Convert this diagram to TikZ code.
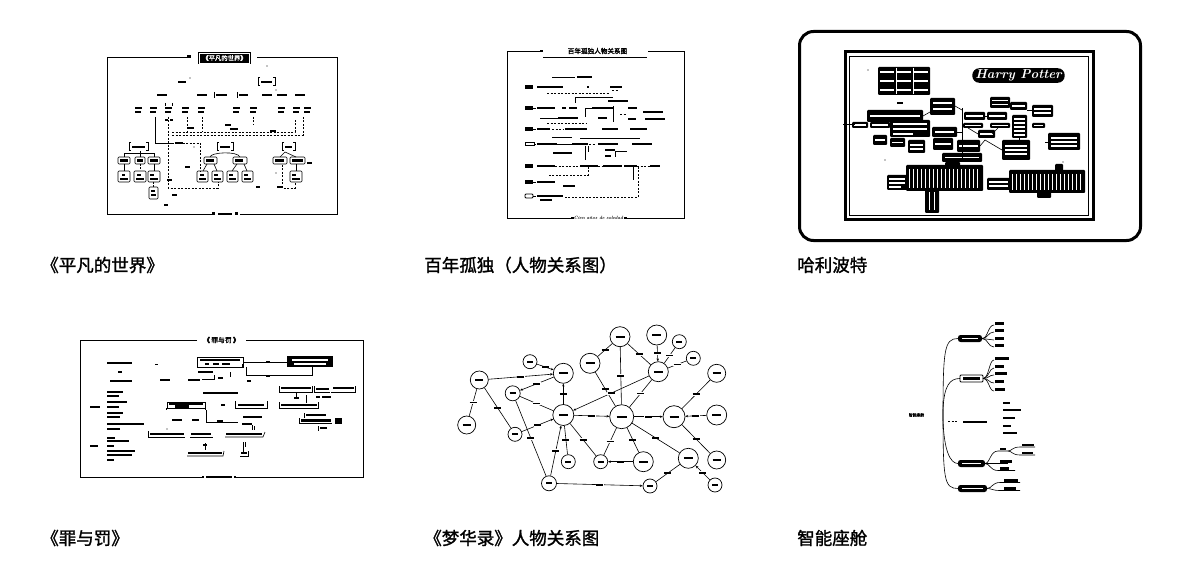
\documentclass[tikz,border=0pt]{standalone}
\usepackage{fontspec}
\newfontfamily\cjk{Noto Sans CJK SC}
\newfontfamily\cjkb{Noto Sans CJK SC}[FakeBold=1.5]
\usetikzlibrary{arrows.meta}
\newcommand\Tb[3]{\fill (#1,#2-1.1) rectangle (#1+#3,#2+1.1);}
\newcommand\Wb[3]{\fill[white] (#1,#2-0.8) rectangle (#1+#3,#2+0.8);}
\newcommand\Bx[4]{\draw[rounded corners=1pt,line width=0.6pt] (#1,#2) rectangle (#3,#4);}
\newcommand\Bk[4]{\fill[rounded corners=1pt] (#1,#2) rectangle (#3,#4);}
\newcommand\rb{\rule{7pt}{1.8pt}}
\tikzset{
  frm/.style={line width=0.8pt},
  dsh/.style={line width=0.6pt,dash pattern=on 2pt off 1.5pt},
  thn/.style={line width=0.6pt},
  captxt/.style={font=\cjkb\fontsize{17.5}{20}\selectfont,inner sep=0,anchor=west},
  pcirc/.style={circle,draw,line width=0.7pt,inner sep=0,fill=white},
  elab/.style={fill=white,inner sep=0.4pt,font=\tiny},
  arrw/.style={line width=0.6pt,-{Stealth[length=2.8pt,width=2.4pt]}},
  lnk/.style={line width=0.6pt}
}
\begin{document}
\begin{tikzpicture}[x=1pt,y=-1pt,line width=0.6pt]
\useasboundingbox (0,0) rectangle (1179,567);
% ---------------- captions
\node[captxt] (c1) at (41,265) {《平凡的世界》};
\node[captxt] (c2) at (424,265) {百年孤独（人物关系图）};
\node[captxt] (c3) at (797,265) {哈利波特};
\node[captxt] (c4) at (41,538) {《罪与罚》};
\node[captxt] (c5) at (424,538) {《梦华录》人物关系图};
\node[captxt] (c6) at (797,538) {智能座舱};

% ================= thumbnail 1
\draw[frm] (190,57) -- (107,57) -- (107,214) -- (213,214);
\draw[frm] (240,214) -- (337,214) -- (337,57) -- (257,57);
\fill (187,55.5) rectangle (191,58.5);
\node[fill=black,text=white,font=\cjkb\fontsize{6.3}{7}\selectfont,inner xsep=4pt,minimum height=12pt] (t1) at (224.5,58) {《平凡的世界》};
\draw[white,line width=0.5pt] ([shift={(1.5,-1.5)}]t1.south west) rectangle ([shift={(-1.5,1.5)}]t1.north east);
\fill (212,212.5) rectangle (215,215.5); \Tb{218}{214}{14} \fill (235,212.5) rectangle (238,215.5);
% row 1
\Tb{178}{82}{8}
\draw[line width=1pt] (260,78)--(258,78)--(258,86)--(260,86);
\draw[line width=1pt] (273,78)--(275,78)--(275,86)--(273,86);
\Tb{261}{82}{11}
\fill (267,66) circle (0.6); \fill (190,78) circle (0.6); \fill (276,90) circle (0.6);
% row 2
\Tb{157}{95}{10} \Tb{197}{95}{10}
\draw (214,92)--(214,98); \Tb{216}{95}{11}
\draw (237,92)--(237,98); \Tb{239}{95}{9}
\Tb{262}{95}{10} \Tb{277}{95}{10} \Tb{295}{95}{10}
% row 3
\foreach \x in {135,150,165,182,198,233,250,278,293,304} {\Tb{\x}{108}{7} \Tb{\x}{112}{6}}
\draw[thn] (165,103)--(165,106); \draw[thn] (172,103)--(172,106);
\Tb{165}{120}{3} \Tb{170}{120}{3}
% dashed connectors
\draw[thn] (155,117)--(155,143)--(172,143);
\draw[dsh] (172,143)--(200,143)--(200,172);
\draw[dsh] (168,117)--(168,188)--(218,188)--(218,182);
\draw[dsh] (172,132)--(295,132)--(295,120);
\draw[dsh] (172,135)--(303,135)--(303,117);
\draw[dsh] (187,117)--(187,132); \draw[dsh] (202,117)--(202,132); \draw[dsh] (253,117)--(253,125);
\Tb{225}{125}{6} \Tb{188}{128}{6} \Tb{230}{129}{8} \Tb{270}{131}{6}
\Tb{175}{143}{8}
% lower left group
\draw[line width=1pt] (131,143)--(129,143)--(129,151)--(131,151);
\draw[line width=1pt] (146,143)--(148,143)--(148,151)--(146,151);
\Tb{132}{147}{13}
\draw[thn] (124,157)--(124,153)--(154,153)--(154,157); \draw[thn] (140,151)--(140,157);
\Bx{118}{157}{130}{164} \Tb{120}{160.5}{8}
\Bx{135}{157}{145}{164} \Tb{137}{160.5}{6}
\Bx{148}{157}{160}{164} \Tb{150}{160.5}{8}
\draw[thn] (124,164)--(124,171); \draw[dsh] (140,164)--(140,171); \draw[thn] (154,164)--(154,171);
\Bx{118}{171}{130}{182} \Tb{122}{175}{3} \Tb{120}{179}{8}
\Bx{134}{171}{146}{182} \Tb{137}{175}{4} \Tb{136}{179}{8}
\Bx{148}{171}{160}{182} \Tb{150}{175}{4} \Tb{150}{179}{8}
\draw[dsh] (153,182)--(153,187);
\Bx{149}{187}{158}{199} \Tb{151}{191}{4} \Tb{151}{195}{5}
% middle group
\draw[line width=1pt] (219,143)--(217,143)--(217,151)--(219,151);
\draw[line width=1pt] (231,143)--(233,143)--(233,151)--(231,151);
\Tb{220}{147}{10}
\draw[thn] (210,157) .. controls (211,152) and (238,151) .. (240,157);
\Bx{204}{157}{217}{164} \Tb{206}{160.5}{8}
\Bx{233}{157}{247}{164} \Tb{235}{160.5}{8}
\draw[thn] (207,164)--(203,171); \draw[thn] (214,164)--(217,171);
\draw[thn] (237,164)--(232,171); \draw[thn] (244,164)--(247,171);
\Bx{197}{171}{208}{182} \Tb{200}{175}{4} \Tb{199}{179}{7}
\Bx{212}{171}{223}{182} \Tb{214}{175}{4} \Tb{214}{179}{7}
\Bx{227}{171}{238}{182} \Tb{229}{175}{4} \Tb{229}{179}{7}
\Bx{242}{171}{253}{182} \Tb{244}{175}{4} \Tb{244}{179}{7}
% right group
\draw[line width=1pt] (284,143)--(282,143)--(282,151)--(284,151);
\draw[line width=1pt] (293,143)--(295,143)--(295,151)--(293,151);
\Tb{285}{147}{7}
\draw[thn] (280,157)--(285,152)--(296,157);
\Bx{273}{157}{287}{164} \Tb{275}{160.5}{9}
\Bx{290}{157}{305}{164} \Tb{292}{160.5}{11}
\Tb{307}{163}{5}
\draw[thn] (296,164)--(296,171);
\Bx{290}{171}{302}{182} \Tb{292}{175}{4} \Tb{292}{179}{8}
\draw[dsh] (282,165)--(282,188)--(295,188)--(295,182);
\Tb{277}{187}{5}
% scattered labels
\Tb{185}{167}{5} \Tb{167}{180}{5} \Tb{172}{195}{5} \Tb{164}{205}{4} \Tb{256}{187}{4}
\fill (276,173) circle (0.6); \fill (194,147) circle (0.6);

% ================= thumbnail 2
\draw[frm] (541,51)--(507,51)--(507,218)--(572,218);
\draw[frm] (648,51)--(684,51)--(684,218)--(625,218);
\fill (540,49.8) rectangle (542.5,52.2); \fill (571,216.8) rectangle (573.5,219.2); \fill (624,216.8) rectangle (626.5,219.2);
\node[font=\cjkb\fontsize{6.6}{7}\selectfont,inner sep=0] (t2) at (597.5,51) {百年孤独人物关系图};
\draw (543,57)--(647,57);
\node[font=\bfseries\itshape\fontsize{4.6}{5}\selectfont,inner sep=0] (b2) at (598.5,218) {Cien años de soledad};
\draw (552,77)--(575,77); \Tb{577}{77}{15}
% tags
\fill (525,85) rectangle (533,89); \fill (525,106) rectangle (533,110); \fill (525,127) rectangle (533,131);
\draw[line width=0.8pt] (525,142.5) rectangle (534,145.5);
\fill (525,164) rectangle (533,168); \fill (525,180) rectangle (533,184);
\draw[line width=0.8pt,rounded corners=1pt] (525,194) rectangle (533,198);
\draw (533,108)--(536,108); \draw (533,129)--(536,129); \draw (534,144)--(536,144); \draw (533,182)--(536,182); \draw (533,196)--(536,196);
% row 87
\Tb{537}{87}{26} \fill (587,86) rectangle (589,88); \Tb{610}{87}{12}
\draw[dsh] (612,90)--(618,90);
\draw[dsh] (547,93)--(610,93);
\draw (575,103)--(575,97)--(613,97);
\Tb{608}{101}{20}
% row 108
\Tb{537}{108}{18} \Tb{562}{108}{4} \Tb{569}{108}{8}
\draw (585,117)--(585,108)--(592,108);
\Tb{592}{108}{21} \Tb{628}{108}{9} \Tb{643}{112}{20}
\draw (613,106)--(613,122);
\draw[dsh] (620,114)--(626,114);
% row 118
\draw (540,118)--(558,118); \Tb{558}{118}{20} \Tb{598}{118}{9}
\Tb{628}{119}{8} \Tb{645}{119}{20}
\draw[dsh] (547,123)--(587,123);
% row 129
\Tb{537}{129}{13} \Tb{565}{129}{22} \Tb{602}{129}{16} \Tb{630}{129}{17}
\draw[dsh] (552,129)--(563,129);
\draw (552,137)--(572,137); \draw (580,138)--(640,138);
% row 144
\Tb{537}{144}{20} \draw (557,144)--(572,144); \Tb{572}{144}{16} \Tb{598}{144}{20} \Tb{632}{144}{20}
\draw[dsh] (589,144)--(596,144);
\draw (585,146)--(585,160); \draw (588,146)--(588,152);
\Tb{553}{153}{19} \Tb{605}{150}{10} \draw (615,151)--(627,151); \draw (615,151)--(615,157);
\Tb{605}{156}{6}
% row 166
\Tb{537}{166}{18} \draw[dsh] (555,166)--(580,166); \Tb{580}{166}{18}
\draw[dsh] (598,166)--(603,166); \Tb{603}{166}{19} \Tb{624}{166}{13}
\draw[dsh] (637,166)--(650,166); \Tb{650}{166}{10}
\draw[dsh] (588,167)--(588,175)--(548,175);
\draw (633,167)--(633,180);
\draw[dsh] (638,167)--(638,197)--(565,197);
\Tb{537}{182}{18} \Tb{563}{186}{12}
\Tb{537}{196}{26} \Tb{540}{200}{12}

% ================= thumbnail 3
\draw[line width=3pt,rounded corners=14pt] (799.5,31.5) rectangle (1140.5,240.5);
\draw[line width=3pt] (845,52) rectangle (1093,220);
\draw[line width=1pt] (849.5,56.5) rectangle (1088.5,215.5);
% table
\Bk{878}{67}{930}{95}
\foreach \c in {880,897,914} {\foreach \r in {72,81,90} {\Wb{\c}{\r}{14}}}
\draw[white,line width=0.6pt] (896,68)--(896,94); \draw[white,line width=0.6pt] (913,68)--(913,94);
\Tb{897}{103}{6}
% title pill
\node[fill=black,rounded corners=7pt,text=white,font=\bfseries\itshape\fontsize{13}{13}\selectfont,inner xsep=3pt,inner ysep=1.5pt] (hp) at (1018.5,75.5) {Harry Potter};
% cluster
\Bk{930}{98}{955}{115} \Wb{933}{103}{19} \Wb{933}{109}{19}
\Bk{867}{110}{923}{122} \Wb{870}{116}{50}
\Bk{852}{122}{868}{128} \Wb{854}{125}{12}
\Bk{870}{122}{890}{128} \Wb{872}{125}{16}
\Bk{890}{120}{930}{137} \Wb{893}{124}{34} \Wb{893}{129}{34} \Wb{893}{134}{20}
\Bk{932}{127}{957}{137} \Wb{935}{132}{19}
\Bk{873}{135}{887}{145} \Wb{875}{140}{10}
\Bk{890}{138}{905}{147} \Wb{892}{142.5}{11}
\Bk{908}{140}{925}{153} \Wb{910}{145}{13} \Wb{910}{149}{13}
\Bk{933}{138}{953}{150} \Wb{935}{144}{16}
\Bk{957}{140}{980}{152} \Wb{959}{146}{19}
\Bk{942}{153}{982}{162} \Wb{945}{157.5}{34}
\Bk{964}{112}{985}{120} \Wb{966}{116}{17}
\Bk{963}{123}{983}{128} \Wb{965}{125.5}{16}
\Bk{978}{130}{995}{138} \Wb{980}{134}{13}
\Bk{987}{112}{1007}{120} \Wb{989}{116}{16}
\Bk{990}{123}{1010}{128} \Wb{992}{125.5}{16}
\Bk{990}{97}{1010}{108} \Wb{992}{100.5}{16} \Wb{992}{104.5}{16}
\Bk{1010}{102}{1027}{110} \Wb{1012}{106}{13}
\Bk{1012}{115}{1027}{138} \foreach \r in {119,123,127,131,135} {\Wb{1014}{\r}{11}}
\Bk{1032}{105}{1053}{117} \Wb{1034}{109}{17} \Wb{1034}{113}{17}
\Bk{1032}{123}{1045}{128} \Wb{1034}{125.5}{9}
\Bk{1002}{140}{1030}{160} \Wb{1005}{146}{22} \Wb{1005}{150}{22} \Wb{1005}{154}{22}
\Bk{1048}{133}{1080}{150} \Wb{1051}{138}{26} \Wb{1051}{142}{26} \Wb{1051}{146}{26}
\draw (855,124)--(843,124); \draw (962,108)--(962,160);
\draw (955,106)--(962,110); \draw (985,116)--(987,116);
\draw (968,128)--(978,134); \draw (998,128)--(992,134);
\draw (1027,110)--(1032,110); \draw (1019,138)--(1019,140);
\draw (1045,142)--(1048,142); \draw (923,116)--(930,112);
\draw (957,132)--(962,132); \draw (980,146)--(985,140)--(1002,150);
\fill (885,160) circle (0.7); \fill (1063,162) circle (0.7); \fill (868,70) circle (0.6);
% bottom bar blocks
\Bk{887}{175}{907}{190} \Wb{889}{179}{16} \Wb{889}{183}{16} \Wb{889}{187}{12}
\Bk{906}{165}{983}{191}
\foreach \x in {909,913,...,980} {\draw[white,line width=0.8pt] (\x,169)--(\x,188);}
\Bk{925}{188}{939}{213}
\draw[white,line width=0.8pt] (929,192)--(929,210); \draw[white,line width=0.8pt] (934,192)--(934,210);
\Bk{945}{162}{960}{168}
\Bk{987}{178}{1010}{190} \Wb{989}{182}{19} \Wb{989}{186}{19}
\Bk{1009}{170}{1085}{193}
\Bk{1055}{164}{1063}{171}
\foreach \x in {1012,1016,...,1083} {\draw[white,line width=0.8pt] (\x,174)--(\x,190);}
\Bk{1037}{192}{1051}{198}

% ================= thumbnail 4
\draw[frm] (197,340)--(80,340)--(80,477)--(203,477);
\draw[frm] (246,340)--(363,340)--(363,477)--(235,477);
\node[font=\cjkb\fontsize{6.8}{7}\selectfont,inner sep=0] (t4) at (221.5,340) {《\,罪与罚\,》};
\fill (202,476) rectangle (204,478); \Tb{206}{477}{26} \fill (234,476) rectangle (236,478);
% left column
\Tb{107}{363}{25} \Tb{118}{372}{4} \Tb{110}{381}{22}
\Tb{107}{392}{16} \Tb{107}{396}{12} \Tb{107}{402}{20} \Tb{107}{407}{12}
\Tb{107}{413}{16} \Tb{107}{417}{13} \Tb{107}{424}{37} \Tb{107}{429}{13}
\Tb{90}{407}{10}
\Tb{107}{438}{8} \Tb{107}{441}{22} \Tb{107}{446}{7} \Tb{107}{451}{28} \Tb{107}{455}{25} \Tb{107}{460}{7}
\Tb{90}{446}{8}
\draw (155,364)--(158,364);
% top boxes
\draw[line width=0.8pt] (197,357) rectangle (243,367);
\draw[line width=1.4pt] (197.5,357)--(197.5,360); \draw[line width=1.4pt] (242.5,364)--(242.5,367);
\Tb{200}{360}{40} \Tb{205}{364}{4} \Tb{213}{364}{6} \Tb{222}{364}{8}
\fill (287,356) rectangle (333,367);
\Wb{292}{360}{36} \Wb{294}{364}{32}
\draw[thn] (243,362)--(287,362); \Tb{266}{362}{4}
\draw[thn] (246,367)--(246,375)--(312,375)--(312,367);
\Tb{266}{376}{4}
\Tb{198}{372}{15} \draw (230,372)--(230,377);
\Tb{160}{380}{10} \Tb{188}{380}{12} \draw (202,379)--(215,379); \Tb{218}{378}{5} \Tb{247}{381}{4}
\draw (214,379)--(214,375);
% middle
\Tb{203}{393}{35}
\draw[thn] (167,402) rectangle (205,408); \Tb{169}{403.5}{34} \Tb{175}{406.5}{14}
\Tb{221}{405}{4}
\draw[thn] (235,401)--(235,408)--(267,408)--(267,401); \Tb{238}{405}{26}
\draw (166,408)--(166,410); \draw (205,408)--(205,410);
\Tb{172}{420}{10} \Tb{192}{420}{7}
\draw[thn] (206,410)--(206,422)--(238,422);
\Tb{217}{421}{6} \Tb{243}{417}{19} \Tb{242}{424}{10}
\draw (252,425)--(252,430); \draw (254,426)--(254,430);
\fill (167,429) circle (0.6);
\draw[thn] (148,431)--(148,437)--(185,437); \Tb{150}{434}{34}
\draw[thn] (190,437)--(213,437); \Tb{191}{434}{20}
\draw[thn] (225,437)--(263,437)--(265,432); \Tb{226}{434}{36}
\draw (205,443)--(205,450); \Tb{203}{445}{4}
\draw (243,442)--(243,453); \draw (245,442)--(245,447);
\draw[thn] (187,456)--(223,456)--(224,451); \Tb{188}{453}{34}
\draw[thn] (240,456)--(248,456)--(248,451); \Tb{241}{453}{6}
% right
\draw[thn] (279,386)--(279,392)--(312,392)--(312,386); \Tb{281}{388}{30}
\draw[thn] (314,386)--(314,392)--(330,392); \Tb{316}{389}{13}
\draw[thn] (331,392)--(355,392)--(355,386); \Tb{333}{388}{21}
\draw (296,393)--(296,398); \Tb{294}{398}{5}
\draw (306,395)--(306,403); \Tb{316}{397}{4} \Tb{322}{397}{9}
\draw[thn] (279,402)--(279,408)--(318,408)--(318,402); \Tb{281}{405}{36}
\Tb{306}{415}{20} \draw (304,413)--(304,418);
\draw[thn] (299,418)--(299,423)--(332,423); \Tb{301}{420.5}{30}
\fill (335,418) rectangle (342,424);
\Tb{320}{428}{7} \draw (318,426)--(318,431);

% ================= thumbnail 5
\node[pcirc,minimum size=18pt] (n1) at (479.3,380) {\rule{8pt}{2pt}};
\node[pcirc,minimum size=18pt] (n2) at (466.7,425) {\rule{8pt}{2pt}};
\node[pcirc,minimum size=14pt] (n3) at (530,361.7) {\rule{6pt}{2pt}};
\node[pcirc,minimum size=20pt] (n4) at (563.3,373.3) {\rule{9pt}{2pt}};
\node[pcirc,minimum size=15pt] (n5) at (512.7,393.3) {\rule{6pt}{2pt}};
\node[pcirc,minimum size=21pt] (n6) at (563.3,415) {\rule{9pt}{2pt}};
\node[pcirc,minimum size=14pt] (n7) at (515,434.3) {\rule{6pt}{2pt}};
\node[pcirc,minimum size=14pt] (n8) at (568.3,461.7) {\rule{6pt}{2pt}};
\node[pcirc,minimum size=15pt] (n9) at (549,483.3) {\rule{6pt}{2pt}};
\node[pcirc,minimum size=20pt] (n10) at (590,363.3) {\rule{9pt}{2pt}};
\node[pcirc,minimum size=20pt] (n11) at (620,336.7) {\rule{9pt}{2pt}};
\node[pcirc,minimum size=24pt] (n12) at (621.7,416.7) {\rule{10pt}{2pt}};
\node[pcirc,minimum size=14pt] (n13) at (600.7,461.7) {\rule{6pt}{2pt}};
\node[pcirc,minimum size=20pt] (n14) at (643.3,461.7) {\rule{9pt}{2pt}};
\node[pcirc,minimum size=20pt] (n15) at (656.7,335) {\rule{9pt}{2pt}};
\node[pcirc,minimum size=14pt] (n16) at (679.3,341.7) {\rule{6pt}{2pt}};
\node[pcirc,minimum size=20pt] (n17) at (658.3,371.7) {\rule{9pt}{2pt}};
\node[pcirc,minimum size=14pt] (n18) at (693.3,358.3) {\rule{6pt}{2pt}};
\node[pcirc,minimum size=18pt] (n19) at (716.7,373.3) {\rule{8pt}{2pt}};
\node[pcirc,minimum size=22pt] (n20) at (674,416.7) {\rule{9pt}{2pt}};
\node[pcirc,minimum size=20pt] (n21) at (716.7,415) {\rule{9pt}{2pt}};
\node[pcirc,minimum size=20pt] (n22) at (688.3,458.3) {\rule{9pt}{2pt}};
\node[pcirc,minimum size=18pt] (n23) at (716.7,460) {\rule{8pt}{2pt}};
\node[pcirc,minimum size=14pt] (n24) at (650,486) {\rule{6pt}{2pt}};
\node[pcirc,minimum size=14pt] (n25) at (715,485) {\rule{6pt}{2pt}};
\draw[arrw] (n1) -- node[elab]{\rb} (n4);
\draw[lnk] (n1) -- node[elab]{\rb} (n2);
\draw[lnk] (n1) -- node[elab]{\rb} (n7);
\draw[arrw] (n3) -- node[elab]{\rb} (n4);
\draw[arrw] (n4) -- node[elab]{\rb} (n5);
\draw[lnk] (n5) -- node[elab]{\rb} (n6);
\draw[arrw] (n6) -- node[elab]{\rb} (n4);
\draw[arrw] (n7) -- node[elab]{\rb} (n6);
\draw[lnk] (n5) -- node[elab]{\rb} (n9);
\draw[arrw] (n9) -- node[elab]{\rb} (n6);
\draw[lnk] (n8) -- node[elab]{\rb} (n6);
\draw[arrw] (n6) -- node[elab]{\rb} (n12);
\draw[lnk] (n6) -- node[elab]{\rb} (n13);
\draw[lnk] (n10) -- node[elab]{\rb} (n12);
\draw[lnk] (n11) -- node[elab]{\rb} (n10);
\draw[lnk] (n11) -- node[elab]{\rb} (n12);
\draw[lnk] (n11) -- node[elab]{\rb} (n17);
\draw[arrw] (n15) -- node[elab]{\rb} (n17);
\draw[lnk] (n16) -- node[elab]{\rb} (n17);
\draw[lnk] (n18) -- node[elab]{\rb} (n17);
\draw[arrw] (n17) -- node[elab]{\rb} (n6);
\draw[lnk] (n17) -- node[elab]{\rb} (n12);
\draw[lnk] (n12) -- node[elab]{\rb} (n13);
\draw[arrw] (n14) -- node[elab]{\rb} (n13);
\draw[lnk] (n12) -- node[elab]{\rb} (n14);
\draw[arrw] (n12) -- node[elab]{\rb} (n20);
\draw[lnk] (n12) -- node[elab]{\rb} (n22);
\draw[arrw] (n21) -- node[elab]{\rb} (n20);
\draw[lnk] (n19) -- node[elab]{\rb} (n20);
\draw[lnk] (n20) -- node[elab]{\rb} (n23);
\draw[arrw] (n9) -- node[elab]{\rb} (n24);
\draw[lnk] (n24) -- node[elab]{\rb} (n22);
\draw[arrw] (n25) -- node[elab]{\rb} (n22);

% ================= thumbnail 6
\node[font=\cjkb\fontsize{3.8}{4}\selectfont,inner sep=0] (root) at (916.5,415) {智能座舱};
\fill[rounded corners=2.5pt] (958,335) rectangle (982,342); \Wb{962}{338.5}{16}
\coordinate (b1) at (958,338.5);
\draw[line width=0.8pt,rounded corners=1pt] (960,375) rectangle (983,382); \Tb{963}{378.5}{17}
\coordinate (b2) at (960,378.5);
\draw[dsh] (948,421)--(957,421); \Tb{963}{422}{24}
\fill[rounded corners=2.5pt] (958,460) rectangle (985,467); \Wb{962}{463.5}{19}
\coordinate (b4) at (958,463.5);
\fill[rounded corners=2.5pt] (958,485) rectangle (987,492); \Wb{962}{488.5}{21}
\coordinate (b5) at (958,488.5);
\draw[lnk] (943,420) .. controls (943,350) and (944,338.5) .. (b1);
\draw[lnk] (943,410) .. controls (944,385) and (950,378.5) .. (b2);
\draw[lnk] (943,410) .. controls (943,480) and (944,488.5) .. (b5);
\draw[lnk] (943,420) .. controls (944,450) and (950,463.5) .. (b4);
% branch 1 children
\foreach \y in {325,332,340,347} {\draw[lnk] (982,338.5) .. controls (988,338.5) and (988,\y) .. (994,\y); \Tb{995}{\y-1.5}{9}}
% branch 2 children
\foreach \y in {360,368,375,383,391} {\draw[lnk] (983,378.5) .. controls (989,378.5) and (989,\y) .. (994,\y);}
\Tb{995}{358.5}{14} \Tb{995}{366.5}{9} \Tb{995}{373.5}{12} \Tb{995}{381.5}{9} \Tb{995}{389.5}{10}
% branch 3 children
\Tb{1003}{403}{7} \Tb{1003}{410}{18} \Tb{1003}{418}{12} \Tb{1003}{426}{8} \Tb{1003}{433}{14}
% branch 4 children
\draw[lnk] (985,463.5) .. controls (990,463.5) and (990,451) .. (998,451) -- (1008,451);
\draw[lnk] (985,463.5) -- (1008,463.5);
\draw[lnk] (985,463.5) .. controls (990,463.5) and (990,470.5) .. (998,470.5) -- (1015,470.5);
\Tb{1000}{449}{6} \Tb{1000}{461.5}{12} \Tb{1000}{468.5}{9}
\draw[lnk] (1008,451) .. controls (1012,451) and (1012,447) .. (1020,447) -- (1035,447);
\draw[lnk] (1008,451) .. controls (1012,451) and (1012,455) .. (1020,455) -- (1035,455);
\Tb{1022}{445}{12} \Tb{1022}{453}{11}
% branch 5 children
\draw[lnk] (987,488.5) .. controls (992,488.5) and (992,482.5) .. (1000,482.5) -- (1020,482.5);
\draw[lnk] (987,488.5) .. controls (992,488.5) and (992,490.5) .. (1000,490.5) -- (1020,490.5);
\Tb{1004}{480.5}{14} \Tb{1004}{488.5}{12}
\end{tikzpicture}
\end{document}
